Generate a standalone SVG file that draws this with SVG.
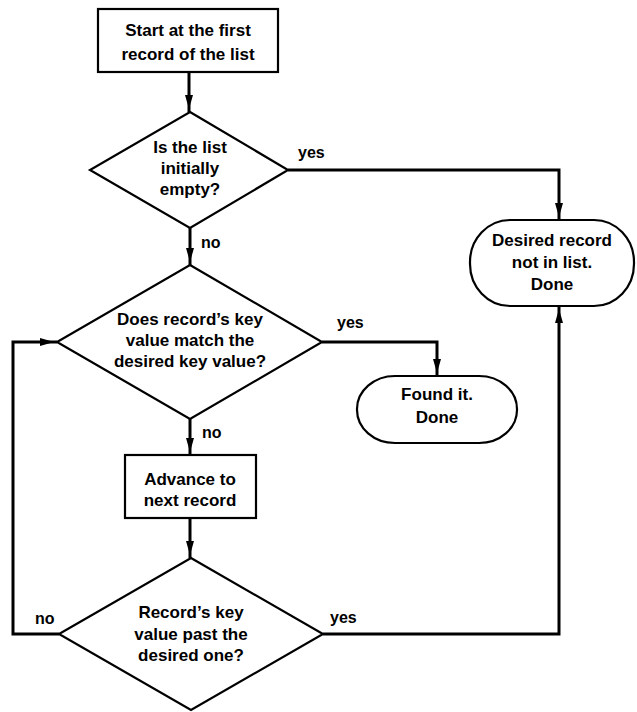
<svg xmlns="http://www.w3.org/2000/svg" width="637" height="712" viewBox="0 0 637 712">
  <defs>
    <marker id="arrow" markerUnits="userSpaceOnUse" markerWidth="18" markerHeight="10" viewBox="0 0 18 10" refX="17" refY="5" orient="auto">
      <path d="M0,1 L14,5 L0,9 z" fill="#000"/>
    </marker>
    <style>
      .shape { fill: #fff; stroke: #000; stroke-width: 2.2; }
      .edge { fill: none; stroke: #000; stroke-width: 3; marker-end: url(#arrow); }
      text { font-family: "Liberation Sans", Arial, sans-serif; font-size: 17px; font-weight: bold; fill: #000; }
      .c { text-anchor: middle; }
      .lbl { font-size: 16px; }
    </style>
  </defs>

  <rect width="637" height="712" fill="#fff"/>

  <!-- connectors -->
  <g id="connectors">
    <path class="edge" d="M189,72 V112"/>
    <path class="edge" d="M190,228 V265"/>
    <path class="edge" d="M288,170 H559 V220"/>
    <path class="edge" d="M322,342 H437 V376"/>
    <path class="edge" d="M190,419 V455"/>
    <path class="edge" d="M190,518 V558"/>
    <path class="edge" d="M323,634 H559 V306"/>
    <path class="edge" d="M59,634 H13 V342 H57"/>
    <text class="lbl" x="298" y="158">yes</text>
    <text class="lbl" x="201" y="248">no</text>
    <text class="lbl" x="337" y="328">yes</text>
    <text class="lbl" x="202" y="438">no</text>
    <text class="lbl" x="35" y="624">no</text>
    <text class="lbl" x="330" y="623">yes</text>
  </g>

  <!-- start -->
  <g id="start">
    <rect class="shape" x="98" y="9" width="180" height="63"/>
    <text class="c" x="188" y="36">Start at the first</text>
    <text class="c" x="188" y="60">record of the list</text>
  </g>

  <!-- list empty? -->
  <g id="is-empty">
    <polygon class="shape" points="190,112 288,170 190,228 90,170"/>
    <text class="c" x="190" y="153">Is the list</text>
    <text class="c" x="190" y="174">initially</text>
    <text class="c" x="190" y="195">empty?</text>
  </g>

  <!-- not found terminal -->
  <g id="not-found">
    <rect class="shape" x="470" y="220" width="164" height="86" rx="40" ry="42"/>
    <text class="c" x="552" y="246">Desired record</text>
    <text class="c" x="552" y="268">not in list.</text>
    <text class="c" x="552" y="290">Done</text>
  </g>

  <!-- key match? -->
  <g id="key-match">
    <polygon class="shape" points="190,265 322,342 190,419 57,342"/>
    <text class="c" x="190" y="325">Does record’s key</text>
    <text class="c" x="190" y="346">value match the</text>
    <text class="c" x="190" y="367">desired key value?</text>
  </g>

  <!-- found terminal -->
  <g id="found">
    <rect class="shape" x="357" y="376" width="160" height="67" rx="38" ry="33"/>
    <text class="c" x="437" y="400">Found it.</text>
    <text class="c" x="437" y="423">Done</text>
  </g>

  <!-- advance -->
  <g id="advance">
    <rect class="shape" x="125" y="455" width="131" height="63"/>
    <text class="c" x="190" y="485">Advance to</text>
    <text class="c" x="190" y="506">next record</text>
  </g>

  <!-- key past? -->
  <g id="key-past">
    <polygon class="shape" points="191,558 323,634 191,710 59,634"/>
    <text class="c" x="191" y="618">Record’s key</text>
    <text class="c" x="191" y="640">value past the</text>
    <text class="c" x="191" y="661">desired one?</text>
  </g>
</svg>
